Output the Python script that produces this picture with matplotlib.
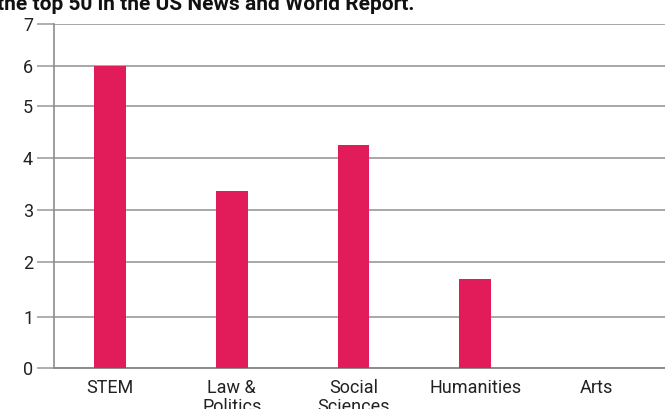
import matplotlib.pyplot as plt
import numpy as np

categories = ["STEM", "Law &\nPolitics", "Social\nSciences", "Humanities", "Arts"]
counts = [6, 3.37, 4.25, 1.69, 0]
yticks = [0, 1, 2, 3, 4, 5, 6, 7]
# the source axis is not evenly spaced: pixel height of each tick above zero
tick_heights = [0, 51, 106, 158, 210, 262, 302, 344]

bar_color = "#E21C5A"
grid_color = "#A8A8A8"


def fwd(v):
    return np.interp(v, yticks, tick_heights, left=-1, right=345)


def inv(h):
    return np.interp(h, tick_heights, yticks)


plt.rcParams["font.family"] = ["Roboto", "DejaVu Sans"]

fig = plt.figure(figsize=(6.65, 4.09), dpi=100)
ax = fig.add_axes([54 / 665, 1 - 368 / 409, 1 - 54 / 665, 344 / 409])

x = np.arange(len(categories))
ax.set_yscale("function", functions=(fwd, inv))
ax.bar(x, counts, width=0.26, color=bar_color, zorder=3)

ax.set_ylim(0, 7)
ax.set_xlim(-0.46, 4.56)
ax.set_yticks(yticks)
ax.set_yticklabels([str(t) for t in yticks], fontsize=13, color="#222222")
ax.set_xticks(x)
ax.set_xticklabels(categories, fontsize=13, color="#222222", linespacing=1.05)
ax.tick_params(axis="y", length=12, width=1.3, color=grid_color, pad=3)
ax.tick_params(axis="x", length=0, pad=8)
ax.yaxis.grid(True, color=grid_color, linewidth=1.4, zorder=0)

for s in ["top", "right"]:
    ax.spines[s].set_visible(False)
ax.spines["left"].set_color("#8C8C8C")
ax.spines["left"].set_linewidth(1.2)
ax.spines["bottom"].set_color("#8C8C8C")
ax.spines["bottom"].set_linewidth(1.4)

fig.text(-0.004, 1 - 4 / 409, "the top 50 in the US News and World Report.",
         fontsize=15, fontweight="bold", color="#111111", ha="left", va="center")

fig.savefig("out.png", dpi=100)
